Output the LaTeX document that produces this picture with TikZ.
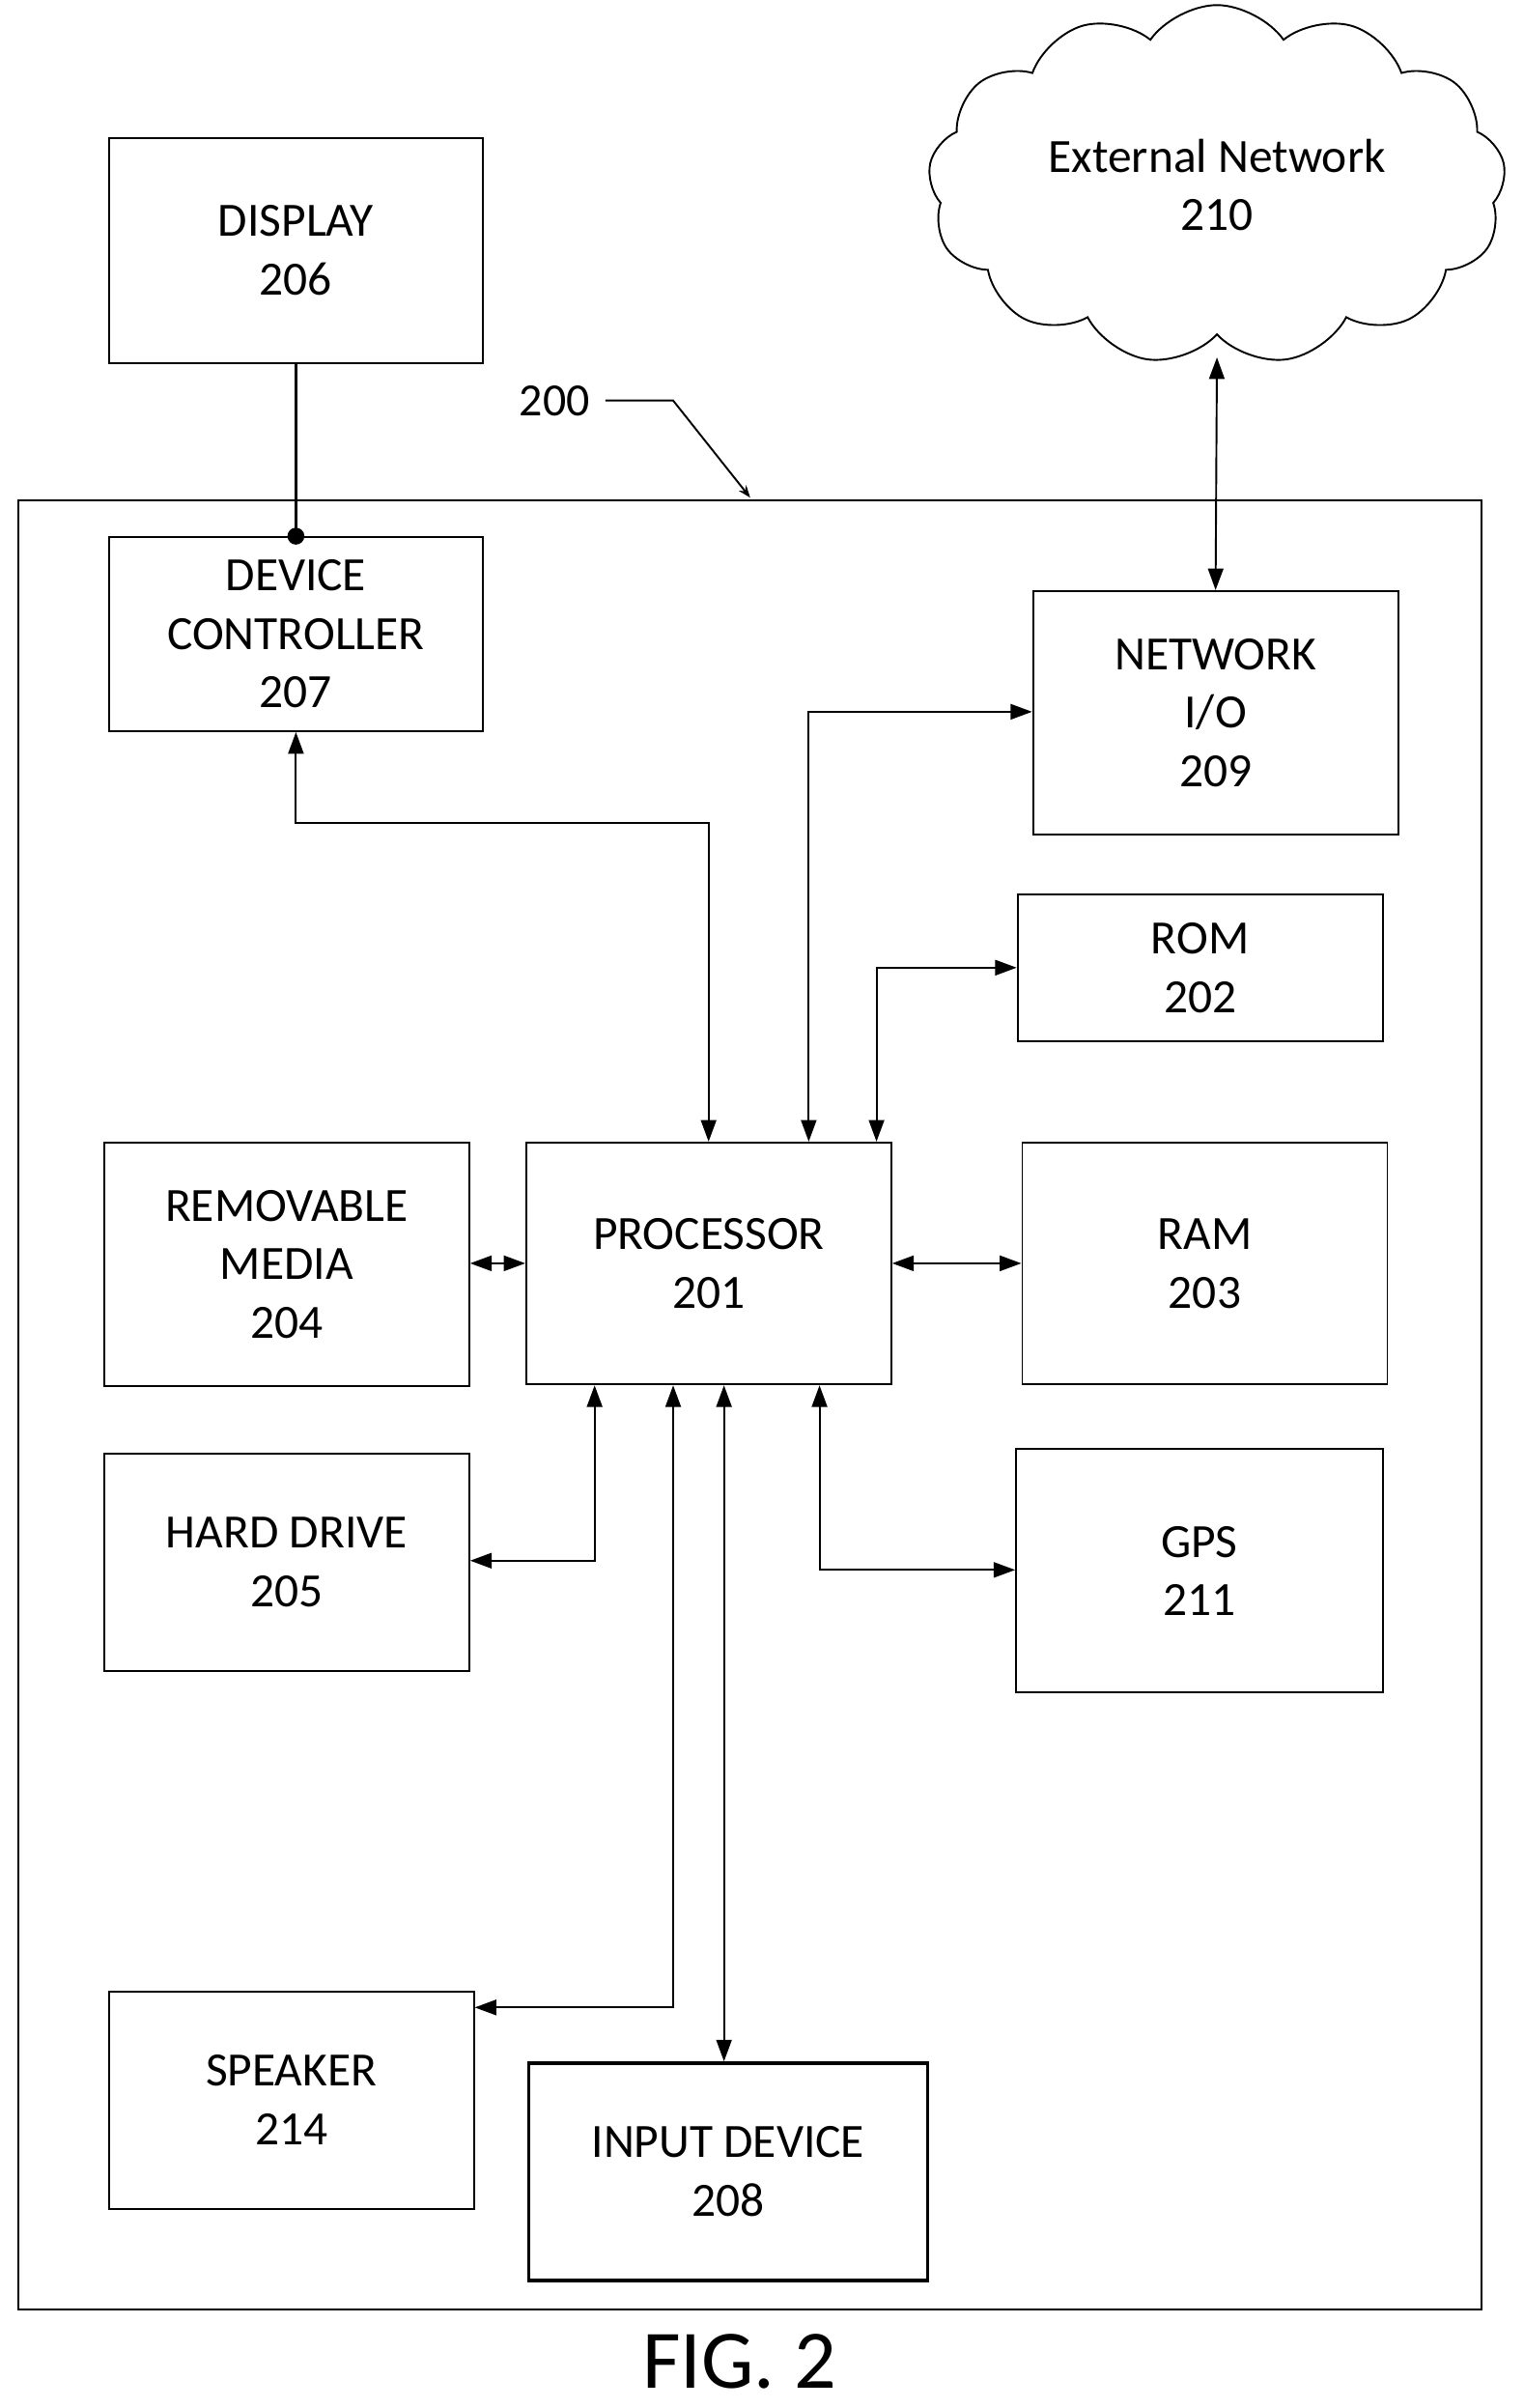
\documentclass[tikz,border=0pt]{standalone}
\usepackage{fontspec}
\setmainfont{Carlito}
\usetikzlibrary{shapes.symbols,arrows.meta}
\begin{document}
\begin{tikzpicture}[x=1pt,y=-1pt,
 box/.style={draw,line width=1.2pt,anchor=north west,align=center,inner sep=0pt,font=\fontsize{31}{38}\selectfont},
 ar/.style={line width=1.2pt,{Triangle[length=14pt,width=10pt]}-{Triangle[length=14pt,width=10pt]}}]
\useasboundingbox (0,0) rectangle (989,1563);
\draw[line width=1.2pt] (12,325) rectangle (962,1499);
\node[box,minimum width=243,minimum height=146] (disp) at (70,89) {DISPLAY\\206};
\node[box,minimum width=243,minimum height=126] (dc) at (70,348) {DEVICE\\CONTROLLER\\207};
\node[box,minimum width=237,minimum height=158] (net) at (670,383) {NETWORK\\I/O\\209};
\node[box,minimum width=237,minimum height=95] (rom) at (660,580) {ROM\\202};
\node[box,minimum width=237,minimum height=158] (rm) at (67,741) {REMOVABLE\\MEDIA\\204};
\node[box,minimum width=237,minimum height=157] (proc) at (341,741) {PROCESSOR\\201};
\node[box,minimum width=237,minimum height=157] (ram) at (663,741) {RAM\\203};
\node[box,minimum width=237,minimum height=141] (hd) at (67,943) {HARD DRIVE\\205};
\node[box,minimum width=238,minimum height=158] (gps) at (659,940) {GPS\\211};
\node[box,minimum width=237,minimum height=141] (spk) at (70,1292) {SPEAKER\\214};
\node[box,line width=2.2pt,minimum width=259,minimum height=141] (inp) at (342,1338) {INPUT DEVICE\\208};
\node[cloud,draw,line width=1.2pt,cloud puffs=13,cloud puff arc=110,aspect=1.6,minimum width=375,minimum height=228,align=center,font=\fontsize{31}{38}\selectfont] (cloud) at (790,120) {External Network\\210};
\node[font=\fontsize{30}{34}\selectfont] (l200) at (360,260) {200};
\coordinate (c200) at (487,323);
\draw[line width=1.2pt,-{Stealth[length=8pt]}] (393,260) -- (437,260) -- (c200);
\node[font=\fontsize{54}{60}\selectfont] (fig) at (480,1533) {FIG. 2};
% connectors
\draw[line width=1.4pt] (disp.south) -- (dc.north);
\fill (dc.north) circle (5.5);
\draw[ar] (dc.south) |- (460,534) -- (proc.north -| 460,0);
\draw[ar] (proc.north -| 525,0) |- (net.west |- 0,462);
\draw[ar] (net.north) -- (cloud.south |- 0,232);
\draw[ar] (proc.north -| 569,0) |- (rom.west);
\draw[ar] (rm.east |- 0,820) -- (proc.west |- 0,820);
\draw[ar] (proc.east |- 0,820) -- (ram.west |- 0,820);
\draw[ar] (proc.south -| 386,0) |- (hd.east |- 0,1013);
\draw[ar] (proc.south -| 532,0) |- (gps.west |- 0,1019);
\draw[ar] (proc.south -| 437,0) |- (spk.east |- 0,1303);
\draw[ar] (proc.south -| 470,0) -- (inp.north -| 470,0);
\end{tikzpicture}
\end{document}
